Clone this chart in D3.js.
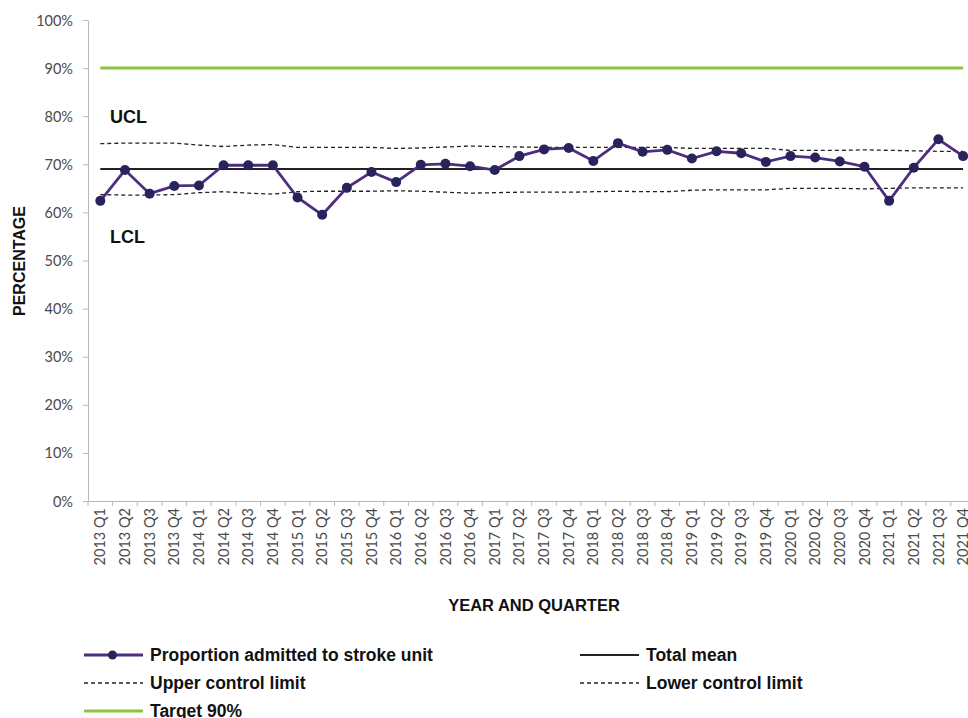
<!DOCTYPE html>
<html><head><meta charset="utf-8">
<script src="https://cdn.jsdelivr.net/npm/d3@7"></script>
<style>body{margin:0;background:#fff}svg{display:block}</style>
</head><body>
<svg id="c" width="968" height="718"></svg>
<script>
const quarters = ["2013 Q1","2013 Q2","2013 Q3","2013 Q4","2014 Q1","2014 Q2","2014 Q3","2014 Q4",
"2015 Q1","2015 Q2","2015 Q3","2015 Q4","2016 Q1","2016 Q2","2016 Q3","2016 Q4",
"2017 Q1","2017 Q2","2017 Q3","2017 Q4","2018 Q1","2018 Q2","2018 Q3","2018 Q4",
"2019 Q1","2019 Q2","2019 Q3","2019 Q4","2020 Q1","2020 Q2","2020 Q3","2020 Q4",
"2021 Q1","2021 Q2","2021 Q3","2021 Q4"];
const proportion = [62.4,68.8,63.9,65.5,65.6,69.8,69.8,69.8,
63.1,59.5,65.1,68.4,66.3,69.9,70.1,69.6,
68.8,71.7,73.1,73.4,70.7,74.4,72.6,73.0,
71.2,72.7,72.3,70.5,71.7,71.4,70.6,69.5,
62.4,69.3,75.2,71.7];
const ucl = [74.3,74.4,74.4,74.4,74.0,73.7,74.0,74.1,
73.5,73.5,73.5,73.5,73.3,73.4,73.6,73.8,
73.7,73.6,73.5,73.5,73.5,73.5,73.5,73.5,
73.3,73.3,73.3,73.3,72.9,72.9,72.9,73.0,
72.9,72.8,72.7,72.7];
const lcl = [63.7,63.6,63.6,63.7,64.1,64.3,64.0,63.8,
64.3,64.4,64.4,64.4,64.5,64.4,64.2,64.0,
64.1,64.2,64.2,64.2,64.3,64.4,64.3,64.3,
64.6,64.7,64.7,64.7,65.0,65.0,65.0,64.9,
65.0,65.1,65.1,65.1];
const totalMean = 69;
const target = 90;
const yTicks = [0,10,20,30,40,50,60,70,80,90,100];

const svg = d3.select("#c");
const x = d3.scaleBand().domain(quarters).range([88, 975.4]).padding(0);
const y = d3.scaleLinear().domain([0,100]).range([501, 20]);
const cx = q => x(q) + x.bandwidth()/2;

const axisColor = "#b8b8b8";
const labelFont = "Lato, 'Noto Sans', sans-serif";
const boldFont = "'Liberation Sans', Arial, sans-serif";

// Y axis
const yAxis = svg.append("g").attr("transform","translate(88,0)")
  .call(d3.axisLeft(y).tickValues(yTicks).tickFormat(d => d + "%").tickSize(5).tickSizeOuter(0));
yAxis.select(".domain").attr("stroke", axisColor);
yAxis.selectAll(".tick line").attr("stroke", axisColor);
yAxis.selectAll(".tick text").attr("font-family", labelFont).attr("font-weight", 400).attr("font-size", 14.5)
  .attr("fill", "#4a4a4a").attr("x", -15).attr("dy","0.35em");

// X axis
const xAxis = svg.append("g").attr("transform","translate(0,501)")
  .call(d3.axisBottom(x).tickSize(0).tickSizeOuter(0));
xAxis.select(".domain").attr("stroke", axisColor);
xAxis.selectAll(".tick text").attr("font-family", labelFont).attr("font-weight", 400).attr("font-size", 14.5)
  .attr("fill", "#4a4a4a").attr("transform","rotate(-90)").attr("text-anchor","end")
  .attr("x", -7).attr("y", 0).attr("dy","0.35em");
// boundary ticks
svg.append("g").selectAll("line").data(quarters.concat(["end"])).join("line")
  .attr("x1", (d,i) => x.range()[0] + i*x.bandwidth())
  .attr("x2", (d,i) => x.range()[0] + i*x.bandwidth())
  .attr("y1", 501).attr("y2", 506).attr("stroke", axisColor);

const first = cx(quarters[0]), last = cx(quarters[quarters.length-1]);

// Target
svg.append("line").attr("x1", first).attr("x2", last).attr("y1", y(target)).attr("y2", y(target))
  .attr("stroke", "#8cc43f").attr("stroke-width", 3);

// UCL / LCL
const lineGen = arr => d3.line().x((d,i) => cx(quarters[i])).y(d => y(d))(arr);
[ucl, lcl].forEach(arr => svg.append("path").attr("d", lineGen(arr)).attr("fill","none")
  .attr("stroke","#222").attr("stroke-width",1.3).attr("stroke-dasharray","4,3"));

// Mean
svg.append("line").attr("x1", first).attr("x2", last).attr("y1", y(totalMean)).attr("y2", y(totalMean))
  .attr("stroke", "#222").attr("stroke-width", 2);

// Proportion
svg.append("path").attr("d", lineGen(proportion)).attr("fill","none")
  .attr("stroke","#4e2d7f").attr("stroke-width",2.8);
svg.append("g").selectAll("circle").data(proportion).join("circle")
  .attr("cx",(d,i)=>cx(quarters[i])).attr("cy", d=>y(d)).attr("r",5).attr("fill","#29235c");

// UCL / LCL labels
svg.append("text").attr("x",110).attr("y",123).text("UCL")
  .attr("font-family",boldFont).attr("font-weight","bold").attr("font-size",18).attr("fill","#111");
svg.append("text").attr("x",110).attr("y",243).text("LCL")
  .attr("font-family",boldFont).attr("font-weight","bold").attr("font-size",18).attr("fill","#111");

// Axis titles
svg.append("text").attr("transform","translate(24.5,261) rotate(-90)").attr("text-anchor","middle")
  .text("PERCENTAGE").attr("font-family",boldFont).attr("font-weight","bold")
  .attr("font-size",16).attr("fill","#111");
svg.append("text").attr("x",534).attr("y",611).attr("text-anchor","middle")
  .text("YEAR AND QUARTER").attr("font-family",boldFont).attr("font-weight","bold")
  .attr("font-size",16.5).attr("fill","#111");

// Legend
const legendItems = [
  {label:"Proportion admitted to stroke unit", x:84, y:655, type:"marker"},
  {label:"Total mean", x:580, y:655, type:"solid"},
  {label:"Upper control limit", x:84, y:683, type:"dash"},
  {label:"Lower control limit", x:580, y:683, type:"dash"},
  {label:"Target 90%", x:84, y:711, type:"green"}
];
const lg = svg.append("g").selectAll("g").data(legendItems).join("g")
  .attr("transform", d => `translate(${d.x},${d.y})`);
lg.append("line").attr("x1",0).attr("x2",59).attr("y1",0).attr("y2",0)
  .attr("stroke", d => d.type==="marker" ? "#4e2d7f" : d.type==="green" ? "#8cc43f" : "#222")
  .attr("stroke-width", d => d.type==="dash" ? 1.3 : d.type==="solid" ? 2 : 3)
  .attr("stroke-dasharray", d => d.type==="dash" ? "4,3" : null);
lg.filter(d => d.type==="marker").append("circle").attr("cx",28.5).attr("cy",0).attr("r",4.5).attr("fill","#29235c");
lg.append("text").attr("x", 66).attr("y",0).attr("dy","0.35em").text(d => d.label)
  .attr("font-family", boldFont).attr("font-weight","bold").attr("font-size",17.5).attr("fill","#111");
</script>
</body></html>
